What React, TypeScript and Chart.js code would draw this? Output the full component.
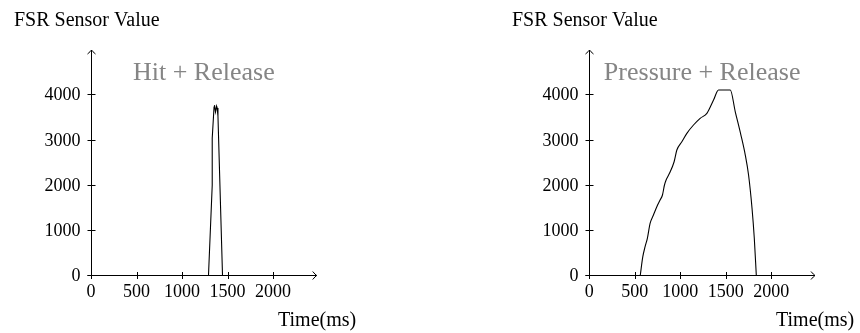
import React, { useEffect, useRef } from "react";
import { Chart, registerables } from "chart.js";

Chart.register(...registerables);

const yAxisLabel = "FSR Sensor Value";
const xAxisLabel = "Time(ms)";
const xTicks = [0, 500, 1000, 1500, 2000];
const yTicks = [0, 1000, 2000, 3000, 4000];
const xMax = 2480;
const yMax = 4980;

const hitTitle = "Hit + Release";
const hitTime = [1291, 1332, 1332, 1352, 1357, 1368, 1380, 1386, 1395, 1445];
const hitValue = [0, 1990, 3030, 3720, 3760, 3610, 3740, 3700, 3520, 0];

const pressTitle = "Pressure + Release";
const pressTime = [560, 588, 613, 638, 668, 705, 742, 778, 804, 826, 844, 881, 932, 962, 1017, 1072, 1145, 1218, 1292, 1365, 1420, 1549, 1604, 1666, 1714, 1750, 1788, 1813, 1835];
const pressValue = [0, 411, 632, 818, 1149, 1333, 1516, 1664, 1775, 1996, 2106, 2254, 2510, 2769, 2952, 3138, 3322, 3470, 3580, 3874, 4095, 4095, 3615, 3100, 2658, 2216, 1481, 818, 0];

const FONT = "'Liberation Serif', 'DejaVu Serif', serif";

const axesPlugin = {
  id: "fsrAxes",
  afterDatasetsDraw(chart: any, _args: any, opts: any) {
    const ctx = chart.ctx as CanvasRenderingContext2D;
    const xs = chart.scales.x;
    const ys = chart.scales.y;
    const snap = (v: number) => Math.round(v) + 0.5;
    const x0 = snap(xs.getPixelForValue(0));
    const y0 = snap(ys.getPixelForValue(0));
    const xEnd = xs.getPixelForValue(xMax);
    const yEnd = ys.getPixelForValue(yMax);
    ctx.save();
    ctx.strokeStyle = "#000";
    ctx.lineWidth = 1;
    ctx.beginPath();
    ctx.moveTo(x0 - 4, y0);
    ctx.lineTo(xEnd, y0);
    ctx.moveTo(x0, y0);
    ctx.lineTo(x0, yEnd);
    ctx.stroke();
    ctx.beginPath();
    ctx.moveTo(xEnd - 4, y0 - 4);
    ctx.quadraticCurveTo(xEnd - 1.5, y0 - 1, xEnd, y0);
    ctx.quadraticCurveTo(xEnd - 1.5, y0 + 1, xEnd - 4, y0 + 4);
    ctx.moveTo(x0 - 4, yEnd + 4);
    ctx.quadraticCurveTo(x0 - 1, yEnd + 1.5, x0, yEnd);
    ctx.quadraticCurveTo(x0 + 1, yEnd + 1.5, x0 + 4, yEnd + 4);
    ctx.stroke();
    ctx.beginPath();
    xTicks.forEach((t) => {
      const px = snap(xs.getPixelForValue(t));
      ctx.moveTo(px, y0 - 3.5);
      ctx.lineTo(px, y0 + 3.5);
    });
    yTicks.forEach((t) => {
      const py = snap(ys.getPixelForValue(t));
      ctx.moveTo(x0 - 4, py);
      ctx.lineTo(x0 + 4, py);
    });
    ctx.stroke();
    ctx.fillStyle = "#000";
    ctx.font = `18px ${FONT}`;
    ctx.textBaseline = "alphabetic";
    ctx.textAlign = "center";
    xTicks.forEach((t) => {
      ctx.fillText(String(t), xs.getPixelForValue(t), y0 + 21.5);
    });
    ctx.textAlign = "right";
    yTicks.forEach((t) => {
      ctx.fillText(String(t), x0 - 11, ys.getPixelForValue(t) + 6);
    });
    ctx.font = `20px ${FONT}`;
    ctx.textAlign = "left";
    ctx.fillText(yAxisLabel, x0 - 77.5, 26);
    ctx.fillText(xAxisLabel, x0 + 186.5, y0 + 50.5);
    ctx.font = `26px ${FONT}`;
    ctx.fillStyle = "#858585";
    ctx.textAlign = "center";
    const ca = chart.chartArea;
    ctx.fillText(opts.title, (ca.left + ca.right) / 2, yEnd + 30);
    ctx.restore();
  },
};

function FsrChart(props: { title: string; times: number[]; values: number[]; left: number; padLeft: number; padRight: number; smooth: boolean }) {
  const ref = useRef<HTMLCanvasElement | null>(null);
  useEffect(() => {
    if (!ref.current) return;
    const chart = new Chart(ref.current, {
      type: "line",
      data: {
        datasets: [
          {
            data: props.times.map((t, i) => ({ x: t, y: props.values[i] })),
            borderColor: "#000",
            borderWidth: 1.1,
            pointRadius: 0,
            tension: props.smooth ? 0.4 : 0,
            cubicInterpolationMode: props.smooth ? "monotone" : "default",
            fill: false,
          } as any,
        ],
      },
      options: {
        animation: false,
        responsive: false,
        maintainAspectRatio: false,
        layout: { padding: { left: props.padLeft, right: props.padRight, top: 50, bottom: 57.7 } },
        scales: {
          x: { type: "linear", min: 0, max: xMax, display: false },
          y: { type: "linear", min: 0, max: yMax, display: false },
        },
        plugins: {
          legend: { display: false },
          tooltip: { enabled: false },
          title: { display: false },
          fsrAxes: { title: props.title },
        } as any,
      },
      plugins: [axesPlugin],
    });
    return () => chart.destroy();
  }, []);
  return (
    <canvas
      ref={ref}
      width={430}
      height={333}
      style={{ position: "absolute", left: props.left, top: 0, width: 430, height: 333 }}
    />
  );
}

export default function App() {
  return (
    <div style={{ position: "absolute", left: 0, top: 0, width: 860, height: 333, background: "#fff" }}>
      <FsrChart title={hitTitle} times={hitTime} values={hitValue} left={0} padLeft={91} padRight={113.3} smooth={false} />
      <FsrChart title={pressTitle} times={pressTime} values={pressValue} left={430} padLeft={159.3} padRight={45} smooth={true} />
    </div>
  );
}
